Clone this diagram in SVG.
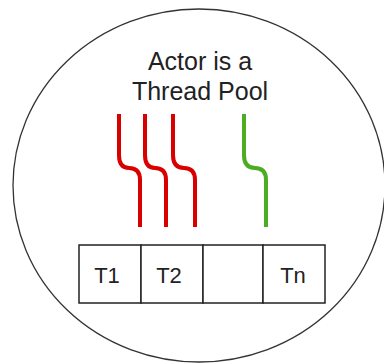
<svg xmlns="http://www.w3.org/2000/svg" width="384" height="363" viewBox="0 0 384 363">
<style>
.txt{font-family:"Liberation Sans",Arial,sans-serif;fill:#222;text-anchor:middle}
.cell{fill:#fff;stroke:#222;stroke-width:1.5}
.red{fill:none;stroke:#d90000;stroke-width:4}
.green{fill:none;stroke:#4cad22;stroke-width:4}
</style>
<rect width="384" height="363" fill="#fff"/>
<g id="actor">
<ellipse cx="199" cy="185.5" rx="186" ry="176.5" fill="#fff" stroke="#333" stroke-width="1.3"/>
<text class="txt" x="200" y="70" font-size="25">Actor is a</text>
<text class="txt" x="200" y="100" font-size="25">Thread Pool</text>
</g>
<g id="threads">
<path class="red" d="M119,114 V155 Q119,168 129,168 Q140,168 140,180 V227"/>
<path class="red" d="M145,114 V155 Q145,168 155,168 Q166,168 166,180 V227"/>
<path class="red" d="M173,114 V155 Q173,168 184,168 Q195,168 195,180 V227"/>
<path class="green" d="M244,114 V155 Q244,168 255,168 Q266,168 266,180 V227"/>
</g>
<g id="pool">
<g id="cell-t1"><rect class="cell" x="79" y="245" width="62" height="58"/><text class="txt" x="107" y="283" font-size="22">T1</text></g>
<g id="cell-t2"><rect class="cell" x="141" y="245" width="62" height="58"/><text class="txt" x="169" y="283" font-size="22">T2</text></g>
<g id="cell-empty"><rect class="cell" x="203" y="245" width="60" height="58"/></g>
<g id="cell-tn"><rect class="cell" x="263" y="245" width="62" height="58"/><text class="txt" x="293" y="283" font-size="22">Tn</text></g>
</g>
</svg>
